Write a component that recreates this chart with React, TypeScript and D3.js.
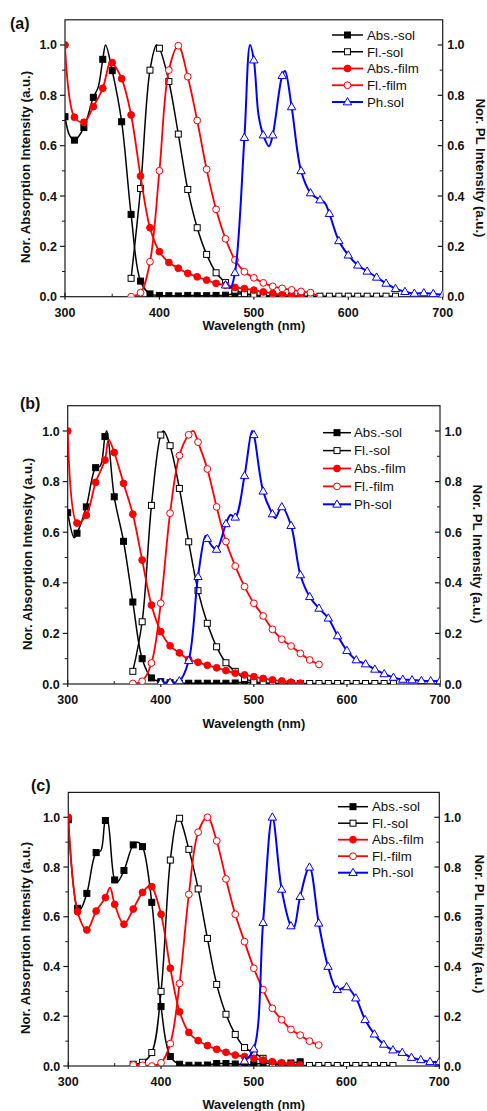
import React from 'react';
import * as d3 from 'd3';

type P = [number, number];

// ---------- Panel (a) ----------
const aAbsSol: P[] = [[300,0.715],[305,0.64],[310,0.622],[320,0.672],[330,0.792],[335,0.83],[340,0.943],[343,1.0],[350,0.898],[360,0.695],[370,0.327],[380,0.062],[390,0.011],[400,0.005],[410,0.004],[420,0.003],[430,0.005],[440,0.004],[450,0.004],[460,0.005],[470,0.006],[480,0.012],[490,0.01],[500,0.005],[510,0.003],[520,0.002],[530,0.002],[540,0.002],[550,0.002]];
const aFlSol: P[] = [[370,0.073],[380,0.43],[390,0.9],[397,1.0],[400,0.987],[410,0.855],[420,0.646],[430,0.426],[440,0.274],[450,0.168],[460,0.095],[470,0.056],[480,0.026],[490,0.013],[500,0.007],[510,0.004],[520,0.003],[530,0.002],[540,0.002],[550,0.002],[560,0.002],[570,0.002],[580,0.002],[590,0.002],[600,0.002],[610,0.002],[620,0.002],[630,0.002],[640,0.002],[650,0.002]];
const aAbsFilm: P[] = [[300,1.0],[310,0.713],[320,0.693],[330,0.755],[340,0.828],[348,0.935],[350,0.93],[360,0.866],[370,0.722],[380,0.479],[390,0.274],[400,0.179],[410,0.136],[420,0.113],[430,0.093],[440,0.079],[450,0.066],[460,0.053],[470,0.046],[480,0.037],[490,0.032],[500,0.026],[510,0.019],[520,0.013],[530,0.008],[540,0.004],[550,0.001]];
const aFlFilm: P[] = [[370,0.0],[380,0.016],[390,0.139],[400,0.5],[410,0.9],[420,0.997],[430,0.874],[440,0.7],[450,0.506],[460,0.347],[470,0.23],[480,0.146],[490,0.099],[500,0.075],[510,0.055],[520,0.041],[530,0.033],[540,0.027],[550,0.021],[560,0.016],[567,0.004]];
const aPhSol: P[] = [[470,0.046],[475,0.035],[480,0.095],[490,0.632],[496,1.0],[500,0.94],[505,0.72],[510,0.642],[516,0.598],[520,0.642],[530,0.878],[533,0.897],[540,0.754],[550,0.5],[560,0.412],[570,0.384],[575,0.374],[580,0.33],[590,0.222],[600,0.165],[610,0.125],[620,0.101],[630,0.077],[640,0.053],[650,0.032],[660,0.02],[670,0.013],[680,0.015],[690,0.012],[700,0.008]];

// ---------- Panel (b) ----------
const bAbsSol: P[] = [[300,0.677],[307,0.578],[310,0.596],[320,0.7],[330,0.855],[335,0.862],[340,0.978],[342,1.0],[350,0.74],[360,0.564],[370,0.324],[380,0.1],[390,0.024],[400,0.009],[410,0.005],[420,0.003],[430,0.003],[440,0.003],[450,0.003],[460,0.003],[470,0.003],[480,0.004],[490,0.008],[500,0.005],[510,0.003],[520,0.002],[530,0.002],[540,0.002],[550,0.002]];
const bFlSol: P[] = [[370,0.05],[380,0.246],[390,0.706],[400,0.984],[403,1.0],[410,0.942],[420,0.773],[430,0.562],[440,0.369],[450,0.24],[460,0.147],[470,0.084],[480,0.05],[490,0.022],[500,0.009],[510,0.004],[520,0.002],[530,0.002],[540,0.002],[550,0.002],[560,0.002],[570,0.002],[580,0.002],[590,0.002],[600,0.002],[610,0.002],[620,0.002],[630,0.002],[640,0.002],[650,0.002]];
const bAbsFilm: P[] = [[300,1.0],[310,0.636],[320,0.667],[330,0.797],[340,0.885],[344,0.966],[350,0.915],[360,0.793],[370,0.671],[380,0.49],[390,0.312],[400,0.207],[410,0.151],[420,0.123],[430,0.097],[440,0.086],[450,0.074],[460,0.064],[470,0.053],[480,0.043],[490,0.036],[500,0.029],[510,0.022],[520,0.016],[530,0.012],[540,0.007],[550,0.003]];
const bFlFilm: P[] = [[370,0.002],[380,0.011],[390,0.083],[400,0.319],[410,0.675],[420,0.903],[430,0.985],[435,1.0],[440,0.956],[450,0.85],[460,0.7],[470,0.563],[480,0.466],[490,0.385],[500,0.319],[510,0.269],[520,0.216],[530,0.177],[540,0.15],[550,0.121],[560,0.095],[570,0.077]];
const bPhSol: P[] = [[400,0.005],[410,0.006],[420,0.012],[430,0.092],[440,0.424],[448,0.585],[450,0.575],[455,0.545],[460,0.532],[470,0.633],[475,0.668],[480,0.659],[490,0.823],[498,1.0],[500,0.985],[510,0.762],[520,0.672],[523,0.655],[530,0.7],[540,0.626],[550,0.431],[560,0.345],[570,0.299],[580,0.26],[590,0.19],[600,0.132],[610,0.095],[620,0.079],[630,0.058],[640,0.04],[650,0.026],[660,0.018],[670,0.016],[680,0.013],[690,0.012],[700,0.012]];

// ---------- Panel (c) ----------
const cAbsSol: P[] = [[300,0.99],[310,0.634],[313,0.63],[320,0.694],[330,0.858],[335,0.865],[340,0.987],[342,0.99],[350,0.748],[353,0.74],[360,0.786],[370,0.889],[375,0.9],[380,0.882],[390,0.658],[400,0.239],[410,0.038],[420,0.007],[430,0.003],[440,0.003],[450,0.004],[460,0.01],[470,0.01],[480,0.008],[490,0.005],[500,0.006],[510,0.012],[520,0.01],[530,0.008],[540,0.012],[550,0.017]];
const cFlSol: P[] = [[370,0.007],[380,0.015],[390,0.054],[400,0.3],[410,0.828],[418,1.0],[420,0.996],[430,0.871],[440,0.712],[450,0.513],[460,0.328],[470,0.208],[480,0.127],[490,0.074],[500,0.054],[510,0.031],[520,0.01],[530,0.004],[540,0.002],[550,0.002],[560,0.002],[570,0.002],[580,0.002],[590,0.002],[600,0.002],[610,0.002],[620,0.002],[630,0.002],[640,0.002],[650,0.002]];
const cAbsFilm: P[] = [[300,1.0],[310,0.62],[320,0.547],[330,0.623],[340,0.677],[345,0.717],[350,0.65],[360,0.57],[370,0.631],[380,0.698],[388,0.725],[390,0.721],[400,0.61],[410,0.393],[420,0.218],[430,0.135],[440,0.102],[450,0.082],[460,0.067],[470,0.055],[480,0.044],[490,0.038],[500,0.031],[510,0.024],[520,0.017],[530,0.013],[540,0.008],[550,0.004]];
const cFlFilm: P[] = [[370,0.004],[380,0.003],[390,0.0],[400,0.013],[410,0.09],[420,0.332],[430,0.69],[440,0.94],[450,1.0],[460,0.905],[470,0.752],[480,0.61],[490,0.5],[500,0.393],[510,0.307],[520,0.232],[530,0.186],[540,0.147],[550,0.124],[560,0.1],[570,0.084]];
const cPhSol: P[] = [[490,0.02],[500,0.068],[510,0.576],[520,1.0],[530,0.71],[540,0.563],[543,0.555],[550,0.681],[560,0.799],[570,0.574],[580,0.4],[590,0.307],[600,0.318],[610,0.273],[620,0.186],[630,0.128],[640,0.087],[650,0.064],[660,0.054],[670,0.034],[680,0.025],[690,0.017],[700,0.017]];

// ---------- Labels & ticks ----------
const xTicks = [300, 400, 500, 600, 700];
const xMinorTicks = [350, 450, 550, 650];
const yTicks = [0, 0.2, 0.4, 0.6, 0.8, 1.0];
const yMinorTicks = [0.1, 0.3, 0.5, 0.7, 0.9];
const panelLabels = ['(a)', '(b)', '(c)'];
const legendA = ['Abs.-sol', 'Fl.-sol', 'Abs.-film', 'Fl.-film', 'Ph.sol'];
const legendB = ['Abs.-sol', 'Fl.-sol', 'Abs.-film', 'Fl.-film', 'Ph-sol'];
const legendC = ['Abs.-sol', 'Fl.-sol', 'Abs.-film', 'Fl.-film', 'Ph.-sol'];
const xTitle = 'Wavelength (nm)';
const yLeftTitle = 'Nor. Absorption Intensity (a.u.)';
const yRightTitle = 'Nor. PL Intensity (a.u.)';

const FONT = "Arial, 'Liberation Sans', Helvetica, sans-serif";

type Style = { color: string; shape: 'square' | 'circle' | 'triangle'; filled: boolean; width: number };
const styles: Style[] = [
  { color: '#000000', shape: 'square', filled: true, width: 1.5 },
  { color: '#000000', shape: 'square', filled: false, width: 1.5 },
  { color: '#ff0000', shape: 'circle', filled: true, width: 1.8 },
  { color: '#ff0000', shape: 'circle', filled: false, width: 1.8 },
  { color: '#0000ff', shape: 'triangle', filled: false, width: 2 },
];

const panels = [
  { id: 'a', series: [aAbsSol, aFlSol, aAbsFilm, aFlFilm, aPhSol], names: legendA,
    x0: 65, x1: 442.7, yb: 296.7, yt: 19.8, lab: [10, 29],
    leg: { x: 332, w: 31, tx: 367, y: 35, dy: 16.75 },
    xTitleY: 330, lT: [30, 167], rT: [476, 168] },
  { id: 'b', series: [bAbsSol, bFlSol, bAbsFilm, bFlFilm, bPhSol], names: legendB,
    x0: 67.7, x1: 440, yb: 684, yt: 405.7, lab: [20, 409],
    leg: { x: 323, w: 28, tx: 354, y: 432.7, dy: 17.9 },
    xTitleY: 728, lT: [32, 554], rT: [472.5, 554] },
  { id: 'c', series: [cAbsSol, cFlSol, cAbsFilm, cFlFilm, cPhSol], names: legendC,
    x0: 68.3, x1: 439.3, yb: 1066, yt: 792.4, lab: [31, 791],
    leg: { x: 338, w: 30, tx: 372, y: 806.7, dy: 16.5 },
    xTitleY: 1109, lT: [30, 938], rT: [474.5, 924] },
];

function Marker({ s, x, y }: { s: Style; x: number; y: number }) {
  const fill = s.filled ? s.color : '#ffffff';
  if (s.shape === 'square') {
    return <rect x={x - 3} y={y - 3} width={6} height={6} fill={fill} stroke={s.color} strokeWidth={1} />;
  }
  if (s.shape === 'circle') {
    return <circle cx={x} cy={y} r={3.4} fill={fill} stroke={s.color} strokeWidth={1} />;
  }
  const h = 3.8;
  return (
    <path d={`M${x},${y - h - 0.6}L${x + h + 0.4},${y + h * 0.75}L${x - h - 0.4},${y + h * 0.75}Z`}
      fill={fill} stroke={s.color} strokeWidth={1} />
  );
}

function Panel({ p, idx }: { p: typeof panels[number]; idx: number }) {
  const x = d3.scaleLinear().domain([300, 700]).range([p.x0, p.x1]);
  const y = d3.scaleLinear().domain([0, 1.1]).range([p.yb, p.yt]);
  const line = d3.line<P>().x(d => x(d[0])).y(d => y(d[1])).curve(d3.curveCatmullRom.alpha(0.5));
  const clipId = `clip-${p.id}`;
  const ax = '#1a1a1a';
  const cx = (p.x0 + p.x1) / 2;
  return (
    <g>
      <defs>
        <clipPath id={clipId}>
          <rect x={p.x0} y={p.yt} width={p.x1 - p.x0} height={p.yb - p.yt} />
        </clipPath>
      </defs>
      {/* frame */}
      <rect x={p.x0} y={p.yt} width={p.x1 - p.x0} height={p.yb - p.yt} fill="none" stroke={ax} strokeWidth={1.2} />
      {/* left ticks (outward) */}
      {yTicks.map(t => <line key={'yl' + t} x1={p.x0 - 5} x2={p.x0} y1={y(t)} y2={y(t)} stroke={ax} strokeWidth={1.2} />)}
      {yMinorTicks.map(t => <line key={'ylm' + t} x1={p.x0 - 3} x2={p.x0} y1={y(t)} y2={y(t)} stroke={ax} strokeWidth={1} />)}
      {/* right ticks (inward) */}
      {yTicks.map(t => <line key={'yr' + t} x1={p.x1 - 5} x2={p.x1} y1={y(t)} y2={y(t)} stroke={ax} strokeWidth={1.2} />)}
      {yMinorTicks.map(t => <line key={'yrm' + t} x1={p.x1 - 3} x2={p.x1} y1={y(t)} y2={y(t)} stroke={ax} strokeWidth={1} />)}
      {/* bottom ticks */}
      {xTicks.map(t => <line key={'x' + t} x1={x(t)} x2={x(t)} y1={p.yb - 4} y2={p.yb + 3} stroke={ax} strokeWidth={1.2} />)}
      {xMinorTicks.map(t => <line key={'xm' + t} x1={x(t)} x2={x(t)} y1={p.yb - 3} y2={p.yb} stroke={ax} strokeWidth={1} />)}
      {/* tick labels */}
      {yTicks.map(t => (
        <text key={'ylt' + t} x={p.x0 - 8} y={y(t)} dy="0.36em" textAnchor="end" fontFamily={FONT} fontWeight="bold" fontSize={12.5} fill="#111">{t.toFixed(1)}</text>
      ))}
      {yTicks.map(t => (
        <text key={'yrt' + t} x={p.x1 + 4.5} y={y(t)} dy="0.36em" textAnchor="start" fontFamily={FONT} fontWeight="bold" fontSize={12.5} fill="#111">{t.toFixed(1)}</text>
      ))}
      {xTicks.map(t => (
        <text key={'xt' + t} x={x(t)} y={p.yb + 20} textAnchor="middle" fontFamily={FONT} fontWeight="bold" fontSize={12.5} fill="#111">{t}</text>
      ))}
      {/* titles */}
      <text x={cx} y={p.xTitleY} textAnchor="middle" fontFamily={FONT} fontWeight="bold" fontSize={12.8} fill="#111">{xTitle}</text>
      <text x={p.lT[0]} y={p.lT[1]} textAnchor="middle" transform={`rotate(-90,${p.lT[0]},${p.lT[1]})`} fontFamily={FONT} fontWeight="bold" fontSize={13.2} fill="#111">{yLeftTitle}</text>
      <text x={p.rT[0]} y={p.rT[1]} textAnchor="middle" transform={`rotate(90,${p.rT[0]},${p.rT[1]})`} fontFamily={FONT} fontWeight="bold" fontSize={13.2} fill="#111">{yRightTitle}</text>
      <text x={p.lab[0]} y={p.lab[1]} fontFamily={FONT} fontWeight="bold" fontSize={16} fill="#111">{panelLabels[idx]}</text>
      {/* data */}
      <g clipPath={`url(#${clipId})`}>
        {p.series.map((s, i) => (
          <g key={'s' + i}>
            <path d={line(s) || ''} fill="none" stroke={styles[i].color} strokeWidth={styles[i].width} strokeLinejoin="round" />
            {s.filter(d => d[0] % 10 === 0).map(d => (
              <Marker key={'m' + d[0]} s={styles[i]} x={x(d[0])} y={y(d[1])} />
            ))}
          </g>
        ))}
      </g>
      {/* legend */}
      {p.names.map((n, i) => {
        const ly = p.leg.y + i * p.leg.dy;
        return (
          <g key={'l' + i}>
            <line x1={p.leg.x} x2={p.leg.x + p.leg.w} y1={ly} y2={ly} stroke={styles[i].color} strokeWidth={styles[i].width} />
            <Marker s={styles[i]} x={p.leg.x + p.leg.w / 2} y={ly} />
            <text x={p.leg.tx} y={ly} dy="0.36em" fontFamily={FONT} fontSize={13.3} fill="#111">{n}</text>
          </g>
        );
      })}
    </g>
  );
}

export default function App() {
  return (
    <svg width={487} height={1111} viewBox="0 0 487 1111"
      style={{ position: 'absolute', left: 0, top: 0, background: '#fff', display: 'block' }}>
      <rect x={0} y={0} width={487} height={1111} fill="#fff" />
      {panels.map((p, i) => <Panel key={p.id} p={p} idx={i} />)}
    </svg>
  );
}
